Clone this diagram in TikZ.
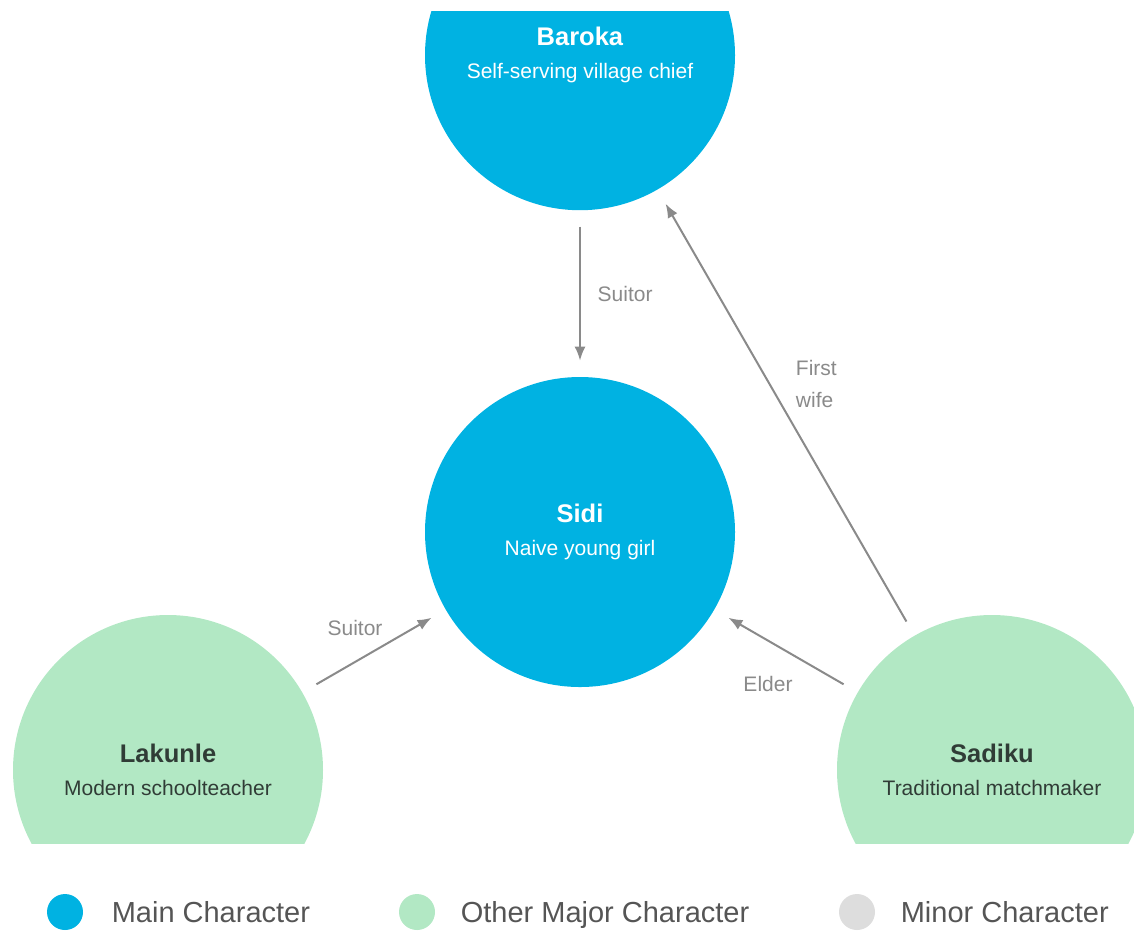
\documentclass[tikz,border=0pt]{standalone}
\usepackage{fontspec}
\setmainfont{Liberation Sans}
\usepackage{xcolor}
\usetikzlibrary{positioning,calc,arrows.meta}

\definecolor{mainblue}{RGB}{0,178,226}
\definecolor{othergreen}{RGB}{178,232,196}
\definecolor{minorgray}{RGB}{221,221,221}
\definecolor{linegray}{RGB}{138,138,138}
\definecolor{darktext}{RGB}{48,60,54}
\definecolor{keygray}{RGB}{85,85,85}

\begin{document}
\begin{tikzpicture}[
    x=0.5pt, y=-0.5pt,
    % Style definitions
    person/.style={circle, minimum size=155pt, inner sep=0pt, align=center, font=\fontsize{10.5}{16.3}\selectfont},
    main/.style={person, fill=mainblue, text=white},
    other/.style={person, fill=othergreen, text=darktext},
    arrow/.style={-{Latex[length=7pt, width=5.5pt]}, line width=1pt, color=linegray, shorten <=8pt, shorten >=8pt},
    relation/.style={font=\fontsize{10.5}{16}\selectfont, text=linegray},
    dot/.style={circle, minimum size=18pt, inner sep=0pt},
    keylabel/.style={font=\fontsize{14.5}{17}\selectfont, text=keygray, text height=1.6ex, text depth=0.3ex, inner sep=0pt, yshift=-2pt}
]
\useasboundingbox (0,0) rectangle (1134,934);

\begin{scope}
\clip (0,11) rectangle (1134,843);

% Main characters
\node[main] (sidi) at (580,532) {
    \textbf{\fontsize{12.75}{15}\selectfont Sidi}\\
    Naive young girl
};

\node[main, above=83pt of sidi] (baroka) {
    \textbf{\fontsize{12.75}{15}\selectfont Baroka}\\
    Self-serving village chief
};

% Other major characters
\node[other] (lakunle) at ($(sidi)+(-412,238)$) {
    \textbf{\fontsize{12.75}{15}\selectfont Lakunle}\\
    Modern schoolteacher
};

\node[other] (sadiku) at ($(sidi)+(412,238)$) {
    \textbf{\fontsize{12.75}{15}\selectfont Sadiku}\\
    Traditional matchmaker
};

% Relations
\draw[arrow] (baroka) -- node[relation, right=5pt] {Suitor} (sidi);
\draw[arrow] (sadiku) -- node[relation, pos=0.565, right=9.5pt, align=left] {First\\wife} (baroka);
\draw[arrow] (lakunle) -- node[relation, above=4pt, xshift=-9.5pt] {Suitor} (sidi);
\draw[arrow] (sadiku) -- node[relation, below=9pt, xshift=-9pt] {Elder} (sidi);
\end{scope}

% Legend
\node[dot, fill=mainblue] (keymain) at (65,912) {};
\node[keylabel, right=14pt of keymain] (keymaintext) {Main Character};

\node[dot, fill=othergreen] (keyother) at (417,912) {};
\node[keylabel, right=12.5pt of keyother] (keyothertext) {Other Major Character};

\node[dot, fill=minorgray] (keyminor) at (857,912) {};
\node[keylabel, right=12.5pt of keyminor] (keyminortext) {Minor Character};

\end{tikzpicture}
\end{document}
